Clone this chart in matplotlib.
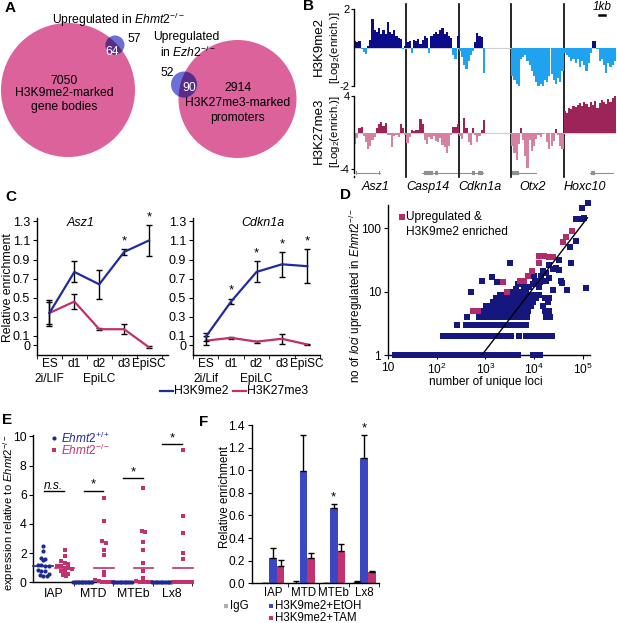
import numpy as np
import matplotlib
matplotlib.use('Agg')
import matplotlib.pyplot as plt
from matplotlib.patches import Circle
from matplotlib import transforms

plt.rcParams['font.family'] = ['Liberation Sans', 'DejaVu Sans']
plt.rcParams['font.size'] = 8.6
plt.rcParams['mathtext.fontset'] = 'custom'
plt.rcParams['mathtext.rm'] = 'Liberation Sans'
plt.rcParams['mathtext.it'] = 'Liberation Sans:italic'
plt.rcParams['mathtext.bf'] = 'Liberation Sans:bold'
plt.rcParams['axes.linewidth'] = 1.0

# ---------------- data ----------------
# A: Venn counts
a_left = [7050, 64, 57]      # H3K9me2-only, overlap, upregulated-only
a_right = [2914, 90, 52]     # H3K27me3-only, overlap, upregulated-only

# B: enrichment tracks (log2), bins per locus
b_loci = ['Asz1', 'Casp14', 'Cdkn1a', 'Otx2', 'Hoxc10']
nan = np.nan
b_k9_asz1 = [0.35, 0.3, 0.35, -0.1, -0.25, -0.35, 0.1, 0.4, 1.5, 0.9, 0.8, 1.0, 0.7, 0.9, 0.7, 1.3, 0.8, 0.7, 0.9, 0.6, 0.5, 0.45, -0.1, 0.1]
b_k9_casp14 = [0.3, 0.35, -0.3, 0.4, 0.35, 0.45, 0.2, 0.4, 0.6, 0.5, -0.3, 0.6, 0.7, 0.8, 0.7, 0.9, 1.0, 0.7, 0.8, 0.6, 0.5, -0.4, -0.6, 0.6]
b_k9_cdkn1a = [-0.2, -0.5, -0.9, -1.1, -0.7, -0.4, -0.2, 0.3, 0.75, 0.6, 0.55, -1.3, nan, nan, nan, nan, nan, nan, nan, nan, nan, nan, nan, nan]
b_k9_otx2 = [-1.5, -1.7, -1.9, -2.0, -0.6, -0.5, -0.4, -0.7, -0.9, -1.2, -1.5, -1.8, -2.0, -1.9, -2.0, -1.7, -1.8, -1.5, -1.4, -1.7, -1.9, -1.6, -1.8, -1.2]
b_k9_hoxc10 = [-0.3, -0.4, -0.5, -0.7, -0.6, -0.8, -0.6, -1.0, -0.7, -0.9, -1.2, -0.8, -0.3, 0.35, 0.35, -0.1, -0.7, -0.6, -0.9, -1.3, -0.8, -1.0, -0.9, -0.7]
b_k27_asz1 = [-1.2, -0.6, 0.5, 0.6, -0.4, -1.0, -1.8, -1.4, -0.8, -0.5, 0.5, 1.0, 1.2, 0.7, 1.1, -0.3, -0.2, -1.6, -0.4, -0.3, -0.5, 0.9, 0.5, -0.2]
b_k27_casp14 = [-1.1, -0.5, 0.3, 0.2, 0.25, 0.3, 1.5, 1.0, -0.8, -1.2, -0.5, -0.7, -0.4, -0.9, -1.0, -0.6, -1.3, -1.6, -2.2, -1.4, -0.3, 0.6, 0.6, 1.0]
b_k27_cdkn1a = [-0.4, -0.7, 1.6, 0.5, -1.0, -1.3, 0.5, -0.3, -1.0, -0.4, 0.3, 1.4, nan, nan, nan, nan, nan, nan, nan, nan, nan, nan, nan, nan]
b_k27_otx2 = [-1.5, -2.2, -3.0, -1.2, 0.5, -0.8, -2.5, -3.9, -0.8, -2.0, -1.5, -0.7, -0.3, -0.5, -0.1, 0.0, -1.0, -1.8, -1.5, -0.9, 0.4, -0.3, -1.4, -1.8]
b_k27_hoxc10 = [2.4, 2.1, 2.7, 2.6, 2.9, 2.8, 3.0, 3.2, 2.9, 3.4, 3.1, 2.8, 3.3, 3.0, 3.5, 2.7, 3.2, 3.6, 3.3, 3.1, 3.7, 3.4, 3.8, 4.0]
b_gene_lines = [(0.03, 0.5), (0.3, 0.97), (0.03, 0.47), (0.01, 0.48), (0.5, 0.94)]
b_gene_blocks = [[(0.03, 0.05), (0.47, 0.5)], [(0.33, 0.5), (0.55, 0.6)], [(0.25, 0.3), (0.36, 0.46)], [(0.01, 0.15)], [(0.53, 0.6)]]

# C: ChIP time course
c_stages = ['ES', 'd1', 'd2', 'd3', 'EpiSC']
c_asz1_k9 = [0.34, 0.77, 0.64, 0.98, 1.10]
c_asz1_k9_err = [0.14, 0.11, 0.15, 0.03, 0.16]
c_asz1_k27 = [0.34, 0.46, 0.17, 0.17, -0.02]
c_asz1_k27_err = [0.12, 0.08, 0.01, 0.05, 0.01]
c_asz1_star = [0, 0, 0, 1, 1]
c_cdkn_k9 = [0.09, 0.46, 0.77, 0.85, 0.83]
c_cdkn_k9_err = [0.04, 0.03, 0.11, 0.13, 0.18]
c_cdkn_k27 = [0.05, 0.08, 0.04, 0.07, 0.01]
c_cdkn_k27_err = [0.05, 0.01, 0.01, 0.05, 0.01]
c_cdkn_star = [0, 1, 1, 1, 1]

# D: scatter (log10 of unique loci) per row of upregulated count
d_r1 = [1.15, 1.22, 1.31, 1.39, 1.47, 1.56, 1.65, 1.73, 1.82, 1.9, 1.99, 2.08, 2.16, 2.25, 2.33, 2.42, 2.5, 2.6, 2.68, 2.77, 2.86, 2.95, 3.03, 3.12, 3.2, 3.3, 3.38, 3.47, 3.55, 3.63, 3.68, 3.97, 4.05, 4.12]
d_r2 = [2.12, 2.2, 2.28, 2.37, 2.45, 2.54, 2.62, 2.7, 2.79, 2.87, 2.96, 3.04, 3.13, 3.21, 3.3, 3.38, 3.46, 3.53, 3.7, 3.84, 3.92, 4.0, 4.08, 4.16, 4.24, 4.32, 4.37]
d_r3 = [2.41, 2.6, 2.68, 2.77, 2.86, 2.94, 3.02, 3.1, 3.19, 3.27, 3.35, 3.44, 3.52, 3.6, 3.68, 3.76, 3.83]
d_r4 = [2.62, 2.86, 2.95, 3.03, 3.12, 3.2, 3.29, 3.37, 3.45, 3.53, 3.61, 3.7, 3.78, 3.86, 4.25, 4.33]
d_r5 = [2.98, 3.06, 3.15, 3.23, 3.32, 3.4, 3.48, 3.56, 3.65, 3.73, 3.81, 3.88, 4.22, 4.3]
d_r6 = [3.02, 3.12, 3.2, 3.28, 3.36, 3.44, 3.52, 3.6, 3.68, 3.77, 3.85, 3.93, 4.18]
d_r7 = [3.15, 3.23, 3.32, 3.42, 3.5, 3.58, 3.66, 3.74, 3.83, 3.9, 3.98, 4.28]
d_r8 = [3.22, 3.35, 3.45, 3.55, 3.63, 3.72, 3.8, 3.88, 3.96, 4.04, 4.22, 4.3]
d_r9 = [3.3, 3.42, 3.52, 3.62, 3.7, 3.78, 3.86, 3.94, 4.02, 4.1]
d_hi_logx = [3.51, 2.93, 3.13, 3.23, 2.70, 3.55, 3.62, 3.72, 3.8, 3.83, 3.9, 3.97, 4.03, 4.1, 4.14, 4.24, 4.31, 4.38, 4.24, 4.31, 4.4, 4.52, 4.52, 4.58, 4.68, 4.56, 4.73, 4.75, 4.86, 4.87, 4.96, 5.02, 4.98, 5.115, 5.06, 4.0, 4.18, 4.45, 3.68, 4.12]
d_hi_y = [28.5, 15, 17, 14, 10, 10, 11, 10, 12, 11, 12, 13, 15, 12, 17.5, 15, 16.6, 10.5, 20, 26, 23, 31.6, 22, 13.7, 10.7, 15, 50, 28.5, 63, 139, 139, 145, 208, 250, 11.6, 18, 21, 24, 13, 14]
d_pk_logx = [4.77, 4.65, 4.6, 4.1, 4.2, 4.3, 4.4, 4.1, 3.95, 3.88, 3.79, 3.72, 3.37, 3.45, 2.74, 2.84]
d_pk_y = [92, 72, 60, 36, 36, 35, 35, 28.5, 21, 18, 15, 15, 14, 10, 5, 5]
d_fit_x = [850, 125000]
d_fit_y = [1, 147]

# E: expression strip plot
e_cats = ['IAP', 'MTD', 'MTEb', 'Lx8']
e_iap_wt = [2.47, 2.15, 1.7, 1.6, 1.5, 1.22, 1.2, 1.15, 1.1, 0.85, 0.8, 0.78, 0.5, 0.45, 0.42, 0.6]
e_iap_ko = [2.24, 1.79, 1.45, 1.35, 1.25, 1.15, 1.1, 1.0, 0.95, 0.9, 0.8, 0.7, 0.6, 0.5, 0.45]
e_mtd_wt = [0.0] * 14
e_mtd_ko = [5.75, 4.2, 2.8, 2.7, 2.2, 1.85, 0.7, 0.5, 0.15, 0.1, 0.05, 0.0, 0.0, 0.0]
e_mteb_wt = [0.0] * 12
e_mteb_ko = [6.5, 3.5, 3.45, 2.75, 2.2, 1.35, 0.8, 0.3, 0.1, 0.05, 0.0, 0.0, 0.0]
e_lx8_wt = [0.0] * 12
e_lx8_ko = [9.05, 4.55, 3.35, 2.0, 1.6, 0.05, 0.0, 0.0, 0.0, 0.0, 0.0, 0.0]
e_mean_wt = [1.13, 0.0, 0.0, 0.0]
e_mean_ko = [1.0, 1.0, 1.0, 1.0]
e_sig_y = [6.27, 6.25, 7.12, 9.45]
e_sig_txt = ['n.s.', '*', '*', '*']

# F: bar chart
f_cats = ['IAP', 'MTD', 'MTEb', 'Lx8']
f_igg = [0.005, 0.005, 0.005, 0.01]
f_igg_err = [0.0, 0.015, 0.0, 0.01]
f_etoh = [0.22, 0.99, 0.67, 1.11]
f_etoh_err = [0.09, 0.32, 0.03, 0.20]
f_tam = [0.15, 0.22, 0.29, 0.10]
f_tam_err = [0.06, 0.05, 0.06, 0.005]
f_star = [0, 0, 1, 1]

# ---------------- colors ----------------
PINK_V = '#dc629c'
BLUE_V = '#6a70d8'
PURP_V = '#5a2c8a'
K9_POS, K9_NEG = '#0c0c8a', '#1fa2f0'
K27_POS, K27_NEG = '#9c2459', '#d4829f'
C_BLUE, C_PINK = '#1f2d9b', '#c1306c'
D_BLUE, D_PINK = '#16167f', '#b22c6c'
E_BLUE, E_PINK = '#1e2a92', '#c2306e'
F_BLUE, F_PINK, F_GRAY = '#3b46c2', '#c2326f', '#b0b0b0'

FS = 8.6       # general text size
FT = 8.6       # tick label size

W, H = 617, 623
fig = plt.figure(figsize=(W / 100, H / 100), dpi=100)


def ax_px(l, t, r, b):
    ax = fig.add_axes([l / W, 1 - b / H, (r - l) / W, (b - t) / H])
    ax.set_facecolor('none')
    return ax


ov = fig.add_axes([0, 0, 1, 1])
ov.set_xlim(0, W)
ov.set_ylim(H, 0)
ov.axis('off')
ov.set_facecolor('none')

# panel letters
for lab, (x, y) in {'A': (5, 8), 'B': (303, 6), 'C': (5, 197), 'D': (340, 195),
                    'E': (2, 420), 'F': (199, 422)}.items():
    ov.text(x, y, lab, fontsize=11, fontweight='bold', ha='left', va='center')

# ---------------- A ----------------
def venn(cpink, rpink, cblue, rblue):
    pk = Circle(cpink, rpink, facecolor=PINK_V, edgecolor='none')
    ov.add_patch(pk)
    ov.add_patch(Circle(cblue, rblue, facecolor=BLUE_V, edgecolor='none'))
    ovl = Circle(cblue, rblue, facecolor=PURP_V, edgecolor='none')
    ov.add_patch(ovl)
    ovl.set_clip_path(pk)

venn((68, 90), 67, (115, 45), 9.5)
venn((237.5, 99), 59, (184, 84.5), 13)
fa = 8.7
ov.text(118, 20, r'Upregulated in $\mathit{Ehmt2}^{-/-}$', ha='center', va='center', fontsize=fa)
ov.text(127, 39, str(a_left[2]), ha='left', va='center', fontsize=fa)
ov.text(112, 52, str(a_left[1]), ha='center', va='center', fontsize=fa, color='white')
ov.text(64, 81, str(a_left[0]), ha='center', va='center', fontsize=fa)
ov.text(64, 93, 'H3K9me2-marked', ha='center', va='center', fontsize=fa)
ov.text(64, 107, 'gene bodies', ha='center', va='center', fontsize=fa)
ov.text(186, 37, 'Upregulated', ha='center', va='center', fontsize=fa)
ov.text(160, 52, r'in $\mathit{Ezh2}^{-/-}$', ha='left', va='center', fontsize=fa)
ov.text(167, 73, str(a_right[2]), ha='center', va='center', fontsize=fa)
ov.text(189, 88, str(a_right[1]), ha='center', va='center', fontsize=fa, color='white')
ov.text(238, 88, str(a_right[0]), ha='center', va='center', fontsize=fa)
ov.text(238, 103, 'H3K27me3-marked', ha='center', va='center', fontsize=fa)
ov.text(238, 118, 'promoters', ha='center', va='center', fontsize=fa)

# ---------------- B ----------------
axB1 = ax_px(354, 9, 616, 86)
axB2 = ax_px(354, 96, 616, 173)


def track(ax, tracks, pc, nc):
    ax.axhline(0, color='#d0d0d0', lw=0.8, zorder=0)
    for i, vals in enumerate(tracks):
        v = np.array(vals, float)
        n = len(v)
        x = i + (np.arange(n) + 0.5) / n
        m = ~np.isnan(v)
        cols = [pc if val > 0 else nc for val in v[m]]
        ax.bar(x[m], v[m], width=1.0 / n, color=cols, linewidth=0)
    ax.set_xlim(0, 5)
    for s in ax.spines.values():
        s.set_visible(False)
    ax.spines['left'].set_visible(True)
    ax.set_xticks([])
    ax.tick_params(axis='y', length=2, pad=1, labelsize=8)


track(axB1, [b_k9_asz1, b_k9_casp14, b_k9_cdkn1a, b_k9_otx2, b_k9_hoxc10], K9_POS, K9_NEG)
axB1.set_ylim(-2, 2)
axB1.set_yticks([-2, 2])
axB1.set_yticklabels(['-2', '2'])
track(axB2, [b_k27_asz1, b_k27_casp14, b_k27_cdkn1a, b_k27_otx2, b_k27_hoxc10], K27_POS, K27_NEG)
axB2.set_ylim(-4.4, 4)
axB2.set_yticks([-4, 4])
axB2.set_yticklabels(['-4', '4'])
for i, ((g0, g1), blocks) in enumerate(zip(b_gene_lines, b_gene_blocks)):
    axB2.plot([i + g0, i + g1], [-4.4, -4.4], color='#909090', lw=0.8, clip_on=False)
    for (s0, s1) in blocks:
        axB2.plot([i + s0, i + s1], [-4.4, -4.4], color='#909090', lw=3, clip_on=False,
                  solid_capstyle='butt')
colw = (616 - 354) / 5
for k in range(1, 5):
    xk = 354 + k * colw
    ov.plot([xk, xk], [4, 177], color='black', lw=1.2)
ov.plot([354, 354], [176, 177], color='black', lw=1.0)
for k, name in enumerate(b_loci):
    ov.text(354 + (k + 0.5) * colw - 5, 187, name, style='italic', ha='center', va='center', fontsize=9)
ov.text(602, 7, '1kb', style='italic', ha='center', va='center', fontsize=8.5)
ov.plot([599, 605], [15, 15], color='black', lw=1.8)
ov.text(319, 47, 'H3K9me2', rotation=90, ha='center', va='center', fontsize=9.5)
ov.text(335, 47, '[Log$_2$(enrich.)]', rotation=90, ha='center', va='center', fontsize=8.2)
ov.text(319, 131, 'H3K27me3', rotation=90, ha='center', va='center', fontsize=9.5)
ov.text(335, 131, '[Log$_2$(enrich.)]', rotation=90, ha='center', va='center', fontsize=8.2)

# ---------------- C ----------------
def cpanel(rect, xlim, k9, k9e, k27, k27e, stars, title, tx, lif):
    ax = ax_px(*rect)
    x = np.arange(len(c_stages))
    ax.errorbar(x, k27, yerr=k27e, color=C_PINK, lw=1.6, ecolor='black', elinewidth=1,
                capsize=2.5, capthick=1, zorder=2)
    ax.errorbar(x, k9, yerr=k9e, color=C_BLUE, lw=1.6, ecolor='black', elinewidth=1,
                capsize=2.5, capthick=1, zorder=3)
    for xi, v, e, s in zip(x, k9, k9e, stars):
        if s:
            ax.text(xi, v + e + 0.02, '*', ha='center', va='bottom', fontsize=9.5)
    ax.set_xlim(*xlim)
    ax.set_ylim(-0.1, 1.335)
    ax.set_yticks([0, 0.1, 0.3, 0.5, 0.7, 0.9, 1.1, 1.3])
    ax.set_yticklabels(['0', '0.1', '0.3', '0.5', '0.7', '0.9', '1.1', '1.3'], fontsize=9)
    ax.set_xticks(x)
    ax.set_xticklabels(c_stages, fontsize=8.6)
    ax.set_xticks([-0.5, 0.5, 1.5, 2.5, 3.5, 4.5], minor=True)
    ax.tick_params(axis='x', which='major', length=0, pad=2)
    ax.tick_params(axis='x', which='minor', length=3, direction='out')
    ax.tick_params(axis='y', length=3, pad=2)
    ax.spines['top'].set_visible(False)
    ax.spines['right'].set_visible(False)
    ax.text(tx, 0.965, title, transform=ax.transAxes, style='italic', ha='center', va='center', fontsize=9)
    tr = transforms.blended_transform_factory(ax.transData, ax.transAxes)
    ax.text(0, -0.175, lif, transform=tr, ha='center', va='center', fontsize=8.6)
    ax.text(2, -0.175, 'EpiLC', transform=tr, ha='center', va='center', fontsize=8.6)
    return ax

axC1 = cpanel((37, 218, 168, 355), (-0.48, 4.76), c_asz1_k9, c_asz1_k9_err, c_asz1_k27,
              c_asz1_k27_err, c_asz1_star, 'Asz1', 0.33, '2i/LIF')
ov.text(8, 288, 'Relative enrichment', rotation=90, ha='center', va='center', fontsize=8.8)
axC2 = cpanel((193, 218, 320, 355), (-0.47, 4.46), c_cdkn_k9, c_cdkn_k9_err, c_cdkn_k27,
              c_cdkn_k27_err, c_cdkn_star, 'Cdkn1a', 0.55, '2i/Lif')
ov.plot([160, 173], [391, 391], color=C_BLUE, lw=1.6)
ov.text(174, 391, 'H3K9me2', ha='left', va='center', fontsize=8.8)
ov.plot([233, 246], [391, 391], color=C_PINK, lw=1.6)
ov.text(247, 391, 'H3K27me3', ha='left', va='center', fontsize=8.8)

# ---------------- D ----------------
axD = ax_px(388, 205, 590, 355)
axD.set_xscale('log')
axD.set_yscale('log')
rows = [d_r1, d_r2, d_r3, d_r4, d_r5, d_r6, d_r7, d_r8, d_r9]
bx, by = [], []
for k, r in enumerate(rows):
    bx += [10 ** v for v in r]
    by += [k + 1] * len(r)
bx += [10 ** v for v in d_hi_logx]
by += d_hi_y
axD.scatter(bx, by, marker='s', s=16, color=D_BLUE, linewidths=0, clip_on=False, zorder=3)
axD.scatter([10 ** v for v in d_pk_logx], d_pk_y, marker='s', s=18, color=D_PINK, linewidths=0,
            clip_on=False, zorder=4)
axD.plot(d_fit_x, d_fit_y, color='black', lw=1, zorder=5)
axD.set_xlim(10, 10 ** 5.15)
axD.set_ylim(1, 10 ** 2.37)
axD.set_xticks([10, 100, 1e3, 1e4, 1e5])
axD.set_xticklabels(['10', '10$^2$', '10$^3$', '10$^4$', '10$^5$'], fontsize=FT)
axD.set_yticks([1, 10, 100])
axD.set_yticklabels(['1', '10', '100'], fontsize=FT)
axD.minorticks_off()
axD.tick_params(length=3, pad=2)
axD.spines['top'].set_visible(False)
axD.spines['right'].set_visible(False)
ov.scatter([402], [217], marker='s', s=14, color=D_PINK, linewidths=0)
ov.text(406, 217, 'Upregulated &', ha='left', va='center', fontsize=FS)
ov.text(406, 232, 'H3K9me2 enriched', ha='left', va='center', fontsize=FS)
ov.text(356, 295, r'no of $\mathit{loci}$ upregulated in $\mathit{Ehmt2}^{-/-}$', rotation=90,
        ha='center', va='center', fontsize=8.4)
ov.text(486, 382, 'number of unique loci', ha='center', va='center', fontsize=FS)

# ---------------- E ----------------
axE = ax_px(33, 435, 192, 582.3)


def swarm(vals, center, binw=0.35):
    vals = np.array(vals, float)
    xs = np.zeros_like(vals)
    keys = np.round(vals / binw)
    for k in np.unique(keys):
        idx = np.where(keys == k)[0]
        n = len(idx)
        sp = 0.09 if n < 2 else min(0.09, 0.48 / (n - 1))
        xs[idx] = center + (np.arange(n) - (n - 1) / 2) * sp
    return xs, vals

wt_groups = [e_iap_wt, e_mtd_wt, e_mteb_wt, e_lx8_wt]
ko_groups = [e_iap_ko, e_mtd_ko, e_mteb_ko, e_lx8_ko]
for i in range(4):
    xw, vw = swarm(wt_groups[i], i - 0.27)
    xk, vk = swarm(ko_groups[i], i + 0.27)
    axE.scatter(xw, vw, marker='o', s=9, color=E_BLUE, linewidths=0, clip_on=False, zorder=3)
    axE.scatter(xk, vk, marker='s', s=9, color=E_PINK, linewidths=0, clip_on=False, zorder=3)
    axE.plot([i - 0.52, i - 0.02], [e_mean_wt[i]] * 2, color=E_BLUE, lw=1.2, zorder=4, clip_on=False)
    axE.plot([i + 0.02, i + 0.52], [e_mean_ko[i]] * 2, color=E_PINK, lw=1.2, zorder=4, clip_on=False)
    axE.plot([i - 0.25, i + 0.25], [e_sig_y[i]] * 2, color='black', lw=1)
    if e_sig_txt[i] == 'n.s.':
        axE.text(i - 0.02, e_sig_y[i] - 0.05, 'n.s.', style='italic', ha='center', va='bottom', fontsize=FS)
    else:
        axE.text(i, e_sig_y[i] + 0.02, '*', ha='center', va='bottom', fontsize=9.5)
axE.set_xlim(-0.53, 3.5)
axE.set_ylim(0, 10.1)
axE.set_yticks([0, 2, 4, 6, 8, 10])
axE.set_yticklabels(['0', '2', '4', '6', '8', '10'], fontsize=8.8)
axE.set_xticks(range(4))
axE.set_xticklabels(e_cats, fontsize=8.8)
axE.set_xticks([0.5, 1.5, 2.5, 3.5], minor=True)
axE.tick_params(axis='x', which='major', length=0, pad=4)
axE.tick_params(axis='x', which='minor', length=3)
axE.tick_params(axis='y', length=3, pad=1.5)
axE.spines['top'].set_visible(False)
axE.spines['right'].set_visible(False)
ov.scatter([54], [438], marker='o', s=9, color=E_BLUE, linewidths=0)
ov.text(61, 438, r'$\mathit{Ehmt2}^{+/+}$', color=E_BLUE, ha='left', va='center', fontsize=FS)
ov.scatter([54], [450], marker='s', s=9, color=E_PINK, linewidths=0)
ov.text(61, 450, r'$\mathit{Ehmt2}^{-/-}$', color=E_PINK, ha='left', va='center', fontsize=FS)
ov.text(9, 513, r'expression relative to $\mathit{Ehmt2}^{-/-}$', rotation=90, ha='center',
        va='center', fontsize=8.1)

# ---------------- F ----------------
axF = ax_px(251.7, 425, 379.3, 583.3)
xf = np.arange(4)
bw = 0.25
ekw = dict(ecolor='black', elinewidth=1, capsize=2.5, capthick=1)
z = [0, 0, 0, 0]
axF.bar(xf - bw, f_igg, width=bw, color=F_GRAY, yerr=[z, f_igg_err], error_kw=ekw)
axF.bar(xf, f_etoh, width=bw, color=F_BLUE, yerr=[z, f_etoh_err], error_kw=ekw)
axF.bar(xf + bw, f_tam, width=bw, color=F_PINK, yerr=[z, f_tam_err], error_kw=ekw)
for i in range(4):
    if f_star[i]:
        axF.text(i, f_etoh[i] + f_etoh_err[i] + 0.005, '*', ha='center', va='bottom', fontsize=9.5)
axF.set_xlim(-0.7, 3.49)
axF.set_ylim(0, 1.4)
axF.set_yticks(np.arange(0, 1.41, 0.2))
axF.set_yticklabels(['0.0', '0.2', '0.4', '0.6', '0.8', '1.0', '1.2', '1.4'], fontsize=8.6)
axF.set_xticks(xf)
axF.set_xticklabels(f_cats, fontsize=8.3)
axF.set_xticks([0.5, 1.5, 2.5, 3.5], minor=True)
axF.tick_params(axis='x', which='major', length=0, pad=3)
axF.tick_params(axis='x', which='minor', length=3)
axF.tick_params(axis='y', length=3, pad=2)
axF.spines['top'].set_visible(False)
axF.spines['right'].set_visible(False)
ov.text(225, 497, 'Relative enrichment', rotation=90, ha='center', va='center', fontsize=8.3)
ov.scatter([226], [606], marker='s', s=12, color=F_GRAY, linewidths=0)
ov.text(230, 606, 'IgG', ha='left', va='center', fontsize=8.3)
ov.scatter([271], [606], marker='s', s=12, color=F_BLUE, linewidths=0)
ov.text(275, 606, 'H3K9me2+EtOH', ha='left', va='center', fontsize=8.3)
ov.scatter([271], [618], marker='s', s=12, color=F_PINK, linewidths=0)
ov.text(275, 618, 'H3K9me2+TAM', ha='left', va='center', fontsize=8.3)

fig.savefig('out.png', dpi=100)
